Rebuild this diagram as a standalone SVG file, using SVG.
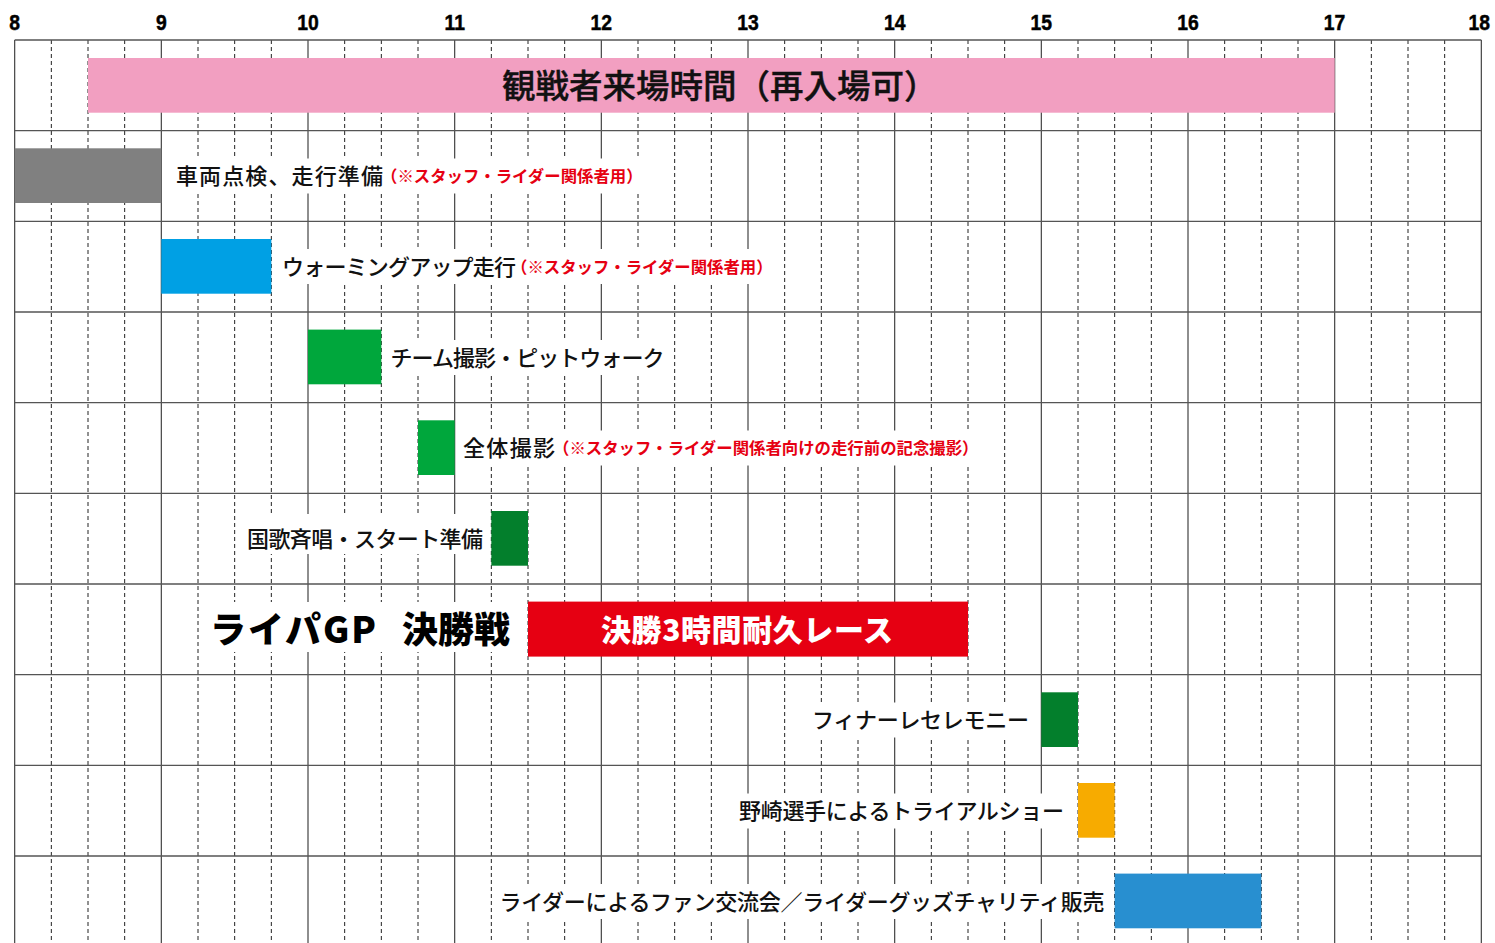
<svg xmlns="http://www.w3.org/2000/svg" width="1495" height="943" viewBox="0 0 1495 943">
<style>
.hl{stroke:#555;stroke-width:1.3;fill:none}
.vl{stroke:#444;stroke-width:1.2;fill:none}
.dl{stroke:#222;stroke-width:1;stroke-dasharray:4 3;fill:none}
.bg{fill:#fff}
.hr{font-family:"Liberation Sans",Arial,sans-serif;font-weight:700;font-size:22.5px;fill:#000;text-anchor:middle;stroke:#000;stroke-width:0.5px}
.t{font-family:"Noto Sans CJK JP","Noto Sans",sans-serif;font-size:22px;font-weight:500;fill:#111}
.r{font-family:"Noto Sans CJK JP","Noto Sans",sans-serif;font-size:16.4px;font-weight:700;fill:#E60012}
</style>
<rect width="1495" height="943" fill="#fff"/>
<g id="hours" transform="scale(0.86 1)">
<text class="hr" x="17.1" y="30.5">8</text>
<text class="hr" x="187.6" y="30.5">9</text>
<text class="hr" x="358.1" y="30.5">10</text>
<text class="hr" x="528.7" y="30.5">11</text>
<text class="hr" x="699.2" y="30.5">12</text>
<text class="hr" x="869.8" y="30.5">13</text>
<text class="hr" x="1040.3" y="30.5">14</text>
<text class="hr" x="1210.9" y="30.5">15</text>
<text class="hr" x="1381.4" y="30.5">16</text>
<text class="hr" x="1551.9" y="30.5">17</text>
<text class="hr" x="1720" y="30.5">18</text>
</g>
<g id="grid">
<path class="dl" d="M51.33 40V943M88 40V943M124.67 40V943M198 40V943M234.67 40V943M271.33 40V943M344.67 40V943M381.33 40V943M418 40V943M491.33 40V943M528 40V943M564.67 40V943M638 40V943M674.67 40V943M711.33 40V943M784.67 40V943M821.33 40V943M858 40V943M931.33 40V943M968 40V943M1004.67 40V943M1078 40V943M1114.67 40V943M1151.33 40V943M1224.67 40V943M1261.33 40V943M1298 40V943M1371.33 40V943M1408 40V943M1444.67 40V943"/>
<path class="vl" d="M14.67 40V943M161.33 40V943M308 40V943M454.67 40V943M601.33 40V943M748 40V943M894.67 40V943M1041.33 40V943M1188 40V943M1334.67 40V943M1481.33 40V943"/>
<path class="hl" d="M14.67 40H1481.33M14.67 130.67H1481.33M14.67 221.33H1481.33M14.67 312H1481.33M14.67 402.67H1481.33M14.67 493.33H1481.33M14.67 584H1481.33M14.67 674.67H1481.33M14.67 765.33H1481.33M14.67 856H1481.33"/>
</g>
<g id="connectors"></g>
<g id="n0">
<rect x="88" y="58" width="1246.67" height="54.7" fill="#F29FC1"/>
<text x="502" y="98" font-family="'Noto Sans CJK JP','Noto Sans',sans-serif" font-size="33.5" font-weight="500" fill="#111" stroke="#111" stroke-width="0.4">観戦者来場時間（再入場可）</text>
</g>
<g id="n1">
<rect x="14.67" y="148.3" width="146.66" height="54.7" fill="#808080"/>
<rect class="bg" x="173" y="158.5" width="467" height="35"/>
<text class="t" x="176" y="184.4" textLength="207" lengthAdjust="spacing">車両点検、走行準備</text>
<text class="r" x="381" y="182.2">（※スタッフ・ライダー関係者用）</text>
</g>
<g id="n2">
<rect x="161.33" y="239" width="110" height="54.7" fill="#00A0E4"/>
<rect class="bg" x="279" y="249" width="491" height="35"/>
<text class="t" x="282" y="275.1" textLength="234" lengthAdjust="spacing">ウォーミングアップ走行</text>
<text class="r" x="511" y="272.9">（※スタッフ・ライダー関係者用）</text>
</g>
<g id="n3">
<rect x="308" y="329.6" width="73.33" height="54.7" fill="#00A73C"/>
<rect class="bg" x="387" y="340" width="281" height="35"/>
<text class="t" x="390.5" y="365.7" textLength="274" lengthAdjust="spacing">チーム撮影・ピットウォーク</text>
</g>
<g id="n4">
<rect x="418" y="420.3" width="36.67" height="54.7" fill="#00A73C"/>
<rect class="bg" x="460" y="430.5" width="520" height="35"/>
<text class="t" x="463" y="456.4" textLength="92" lengthAdjust="spacing">全体撮影</text>
<text class="r" x="553" y="454.2">（※スタッフ・ライダー関係者向けの走行前の記念撮影）</text>
</g>
<g id="n5">
<rect x="491.33" y="511" width="36.67" height="54.7" fill="#037F2C"/>
<rect class="bg" x="244" y="514" width="243" height="40"/>
<text class="t" x="247" y="547.1" textLength="236" lengthAdjust="spacing">国歌斉唱・スタート準備</text>
</g>
<g id="n6">
<rect class="bg" x="206" y="602" width="316" height="50"/>
<text y="643" font-family="'Noto Sans CJK JP','Noto Sans',sans-serif" font-size="36" font-weight="900" fill="#000"><tspan x="210" textLength="166" lengthAdjust="spacing">ライパGP</tspan><tspan x="366">　決勝戦</tspan></text>
<rect x="528" y="601.6" width="440" height="55" fill="#E60012"/>
<text x="747" y="640.7" text-anchor="middle" font-family="'Noto Sans CJK JP','Noto Sans',sans-serif" font-size="30" font-weight="900" fill="#fff" textLength="292" lengthAdjust="spacing">決勝3時間耐久レース</text>
</g>
<g id="n7">
<rect x="1041.33" y="692.3" width="36.67" height="54.7" fill="#037F2C"/>
<rect class="bg" x="809" y="702.5" width="223" height="35"/>
<text class="t" x="812" y="728.4" textLength="217" lengthAdjust="spacing">フィナーレセレモニー</text>
</g>
<g id="n8">
<rect x="1078" y="783" width="36.67" height="54.7" fill="#F7AB00"/>
<rect class="bg" x="736" y="793.5" width="330" height="35"/>
<text class="t" x="739" y="819.1" textLength="325" lengthAdjust="spacing">野崎選手によるトライアルショー</text>
</g>
<g id="n9">
<rect x="1114.67" y="873.6" width="146.66" height="54.7" fill="#288FD0"/>
<rect class="bg" x="496" y="884" width="611" height="35"/>
<text class="t" x="499.5" y="909.7" textLength="605" lengthAdjust="spacing">ライダーによるファン交流会／ライダーグッズチャリティ販売</text>
</g>
</svg>
